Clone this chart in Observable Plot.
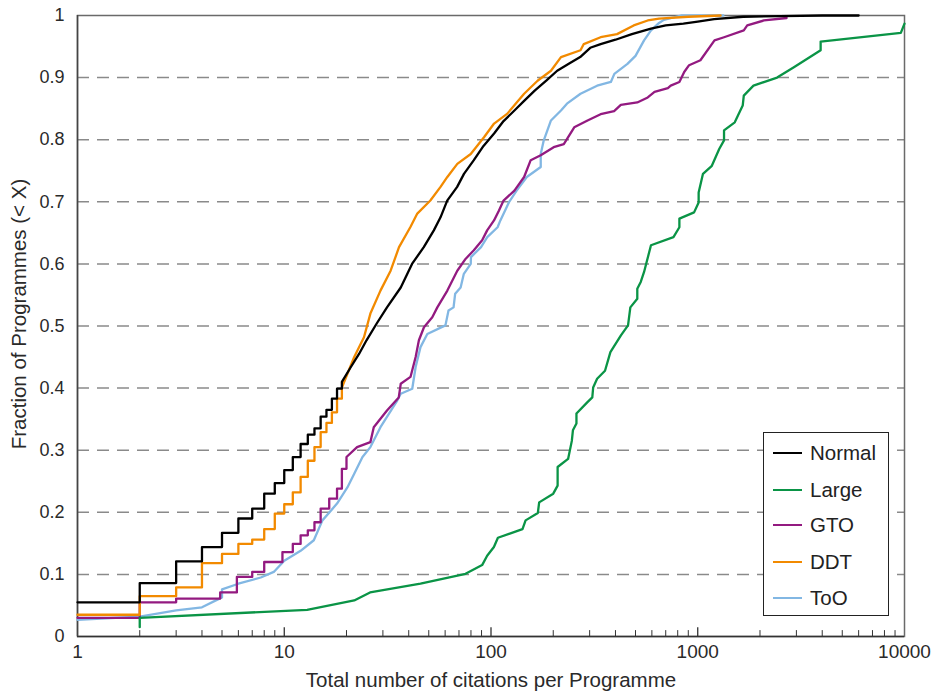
<!DOCTYPE html>
<html>
<head>
<meta charset="utf-8">
<script src="https://cdn.jsdelivr.net/npm/d3@7"></script>
<script src="https://cdn.jsdelivr.net/npm/@observablehq/plot@0.6"></script>
<style>
  body { margin: 0; background: #fff; }
  #wrap { position: relative; width: 933px; height: 692px; font-family: "Liberation Sans", Helvetica, Arial, sans-serif; }
  #legend { position: absolute; left: 763px; top: 432px; width: 124px; height: 182px; border: 1px solid #222; background: #fff; }
  .row { position: absolute; left: 0; height: 24px; display: flex; align-items: center; }
  .sw { width: 29px; height: 0; border-top: 2.3px solid; margin-left: 9px; margin-right: 8px; }
  .lab { font-size: 20.5px; color: #222; }
</style>
</head>
<body>
<div id="wrap"></div>
<script>
// ---- data ----
const seriesNames = ["Normal", "Large", "GTO", "DDT", "ToO"];
const seriesColors = ["#000000", "#0a9446", "#931a80", "#f28a00", "#82b7e3"];

const normal = [[1,0.055],[2,0.055],[2,0.086],[3,0.086],[3,0.121],[4,0.121],[4,0.144],[5,0.144],[5,0.167],[6,0.167],[6,0.19],[7,0.19],[7,0.206],[8,0.206],[8,0.23],[9,0.23],[9,0.247],[10,0.247],[10,0.268],[11,0.268],[11,0.289],[12,0.289],[12,0.31],[13,0.31],[13,0.325],[14,0.325],[14,0.335],[15,0.335],[15,0.354],[16,0.354],[16,0.365],[17,0.365],[17,0.383],[18,0.383],[18,0.399],[19,0.399],[19,0.41],[21,0.434],[23,0.455],[25,0.477],[28,0.504],[31.4,0.53],[36.6,0.562],[41.5,0.6],[47.3,0.627],[52.9,0.654],[57,0.675],[61.4,0.702],[68.6,0.724],[74,0.745],[82.6,0.767],[92,0.79],[103.5,0.81],[115,0.83],[129.8,0.847],[145,0.863],[162.7,0.879],[185,0.895],[209,0.911],[240,0.923],[270,0.933],[302,0.948],[339,0.954],[400,0.961],[480,0.97],[594,0.979],[700,0.984],[852,0.987],[1000,0.99],[1200,0.994],[1660,0.998],[2500,0.999],[4000,1.0],[6000,1.0]];

const large = [[2,0.015],[2,0.03],[12.9,0.043],[21.8,0.058],[26,0.071],[45.6,0.085],[75.3,0.101],[90.6,0.115],[95.8,0.13],[103.3,0.144],[108,0.159],[142,0.173],[147,0.187],[168.5,0.199],[171,0.216],[200,0.23],[210,0.243],[210,0.273],[236,0.286],[246,0.315],[249,0.332],[259,0.343],[259,0.359],[292,0.377],[309,0.385],[312,0.401],[326,0.415],[356,0.428],[378,0.458],[425,0.485],[460,0.501],[472,0.53],[510,0.544],[510,0.56],[530,0.571],[550,0.587],[594,0.63],[763,0.643],[815,0.659],[815,0.673],[960,0.683],[1010,0.699],[1010,0.715],[1060,0.745],[1170,0.758],[1270,0.785],[1340,0.799],[1340,0.815],[1510,0.828],[1650,0.855],[1670,0.871],[1860,0.887],[2420,0.9],[2930,0.917],[3930,0.944],[3930,0.958],[9600,0.972],[10000,0.987]];

const gto = [[1,0.03],[2,0.03],[2,0.055],[3,0.055],[3,0.061],[4.9,0.061],[4.9,0.071],[5.9,0.071],[5.9,0.096],[7,0.096],[7,0.104],[8,0.104],[8,0.12],[9.8,0.12],[9.8,0.136],[11,0.136],[11,0.149],[12,0.149],[12,0.163],[13,0.163],[13,0.171],[14,0.171],[14,0.184],[15,0.184],[15,0.206],[16.5,0.206],[16.5,0.222],[18,0.222],[18,0.238],[19,0.238],[19,0.27],[20,0.27],[20,0.289],[22.5,0.305],[26.1,0.313],[27.1,0.337],[31.4,0.364],[35.8,0.385],[36.6,0.407],[40.8,0.418],[43.2,0.45],[44.8,0.477],[47.4,0.498],[52,0.514],[55,0.53],[61.5,0.557],[68.7,0.589],[75.3,0.608],[82.6,0.622],[90.6,0.638],[95.8,0.654],[103.4,0.67],[109.3,0.686],[115,0.702],[129.8,0.718],[144.6,0.74],[155.6,0.767],[174,0.775],[201,0.788],[225,0.793],[252.7,0.82],[293,0.831],[339,0.841],[394,0.846],[424.5,0.856],[510,0.86],[573,0.868],[618,0.877],[717,0.883],[740,0.887],[815,0.893],[860,0.909],[908,0.92],[1030,0.928],[1205,0.96],[1340,0.965],[1670,0.976],[1735,0.984],[2090,0.992],[2690,0.996]];

const ddt = [[1,0.035],[2,0.035],[2,0.065],[3,0.065],[3,0.079],[4,0.079],[4,0.118],[5,0.118],[5,0.133],[6,0.133],[6,0.149],[7,0.149],[7,0.156],[8,0.156],[8,0.173],[9,0.173],[9,0.198],[10,0.198],[10,0.213],[11,0.213],[11,0.232],[12,0.232],[12,0.257],[13,0.257],[13,0.283],[14,0.283],[14,0.305],[15,0.305],[15,0.329],[16,0.329],[16,0.344],[17,0.344],[17,0.361],[18,0.361],[18,0.383],[19,0.383],[19,0.401],[21.8,0.45],[24.3,0.482],[26.1,0.52],[29.2,0.557],[32.7,0.589],[35.9,0.627],[40.7,0.659],[44,0.681],[50.9,0.702],[57,0.724],[61.5,0.74],[68.7,0.761],[79.8,0.777],[92.5,0.804],[103.5,0.826],[120,0.842],[144.6,0.874],[168,0.895],[195,0.911],[218,0.933],[271,0.944],[281,0.954],[339,0.965],[407,0.97],[490,0.984],[573,0.992],[650,0.995],[900,0.998],[1290,1.0]];

const too = [[1,0.027],[2,0.032],[3,0.042],[4,0.047],[5,0.063],[5,0.076],[6,0.085],[7.7,0.095],[8.9,0.104],[10,0.122],[12,0.138],[13.9,0.155],[15.3,0.187],[18,0.214],[20.2,0.24],[21.8,0.262],[23.9,0.289],[26.1,0.305],[29.2,0.337],[35.2,0.38],[36.6,0.391],[41.6,0.399],[43.2,0.434],[45.6,0.466],[49.2,0.487],[60.2,0.501],[62.3,0.525],[65.9,0.53],[67.1,0.552],[71.3,0.562],[73.9,0.584],[79.8,0.6],[80,0.611],[89.5,0.627],[95.9,0.643],[107.6,0.659],[111,0.67],[122,0.699],[133,0.718],[149,0.74],[174,0.756],[174,0.777],[180,0.799],[195,0.831],[218,0.847],[233,0.858],[271,0.874],[326,0.887],[380,0.893],[395,0.906],[457,0.922],[500,0.935],[550,0.96],[594,0.976],[650,0.988],[686,0.993],[830,1.0],[1330,1.0]];

const xTickValues = [1, 10, 100, 1000, 10000];
const yTickValues = [0, 0.1, 0.2, 0.3, 0.4, 0.5, 0.6, 0.7, 0.8, 0.9, 1];
const gridValues = [0.1, 0.2, 0.3, 0.4, 0.5, 0.6, 0.7, 0.8, 0.9];
const xLabel = "Total number of citations per Programme";
const yLabel = "Fraction of Programmes (< X)";

// ---- build table ----
const seriesData = [normal, large, gto, ddt, too];
const drawOrder = ["ToO", "GTO", "Large", "DDT", "Normal"];
const rows = [];
for (const name of drawOrder) {
  const i = seriesNames.indexOf(name);
  seriesData[i].forEach(([x, y]) => rows.push({series: name, x, y}));
}
const minorTicks = [];
for (const dec of [1, 10, 100, 1000]) for (let k = 2; k <= 9; k++) minorTicks.push(dec * k);
const majorTicks = [10, 100, 1000];

const chart = Plot.plot({
  width: 933,
  height: 692,
  marginLeft: 77,
  marginRight: 29,
  marginTop: 15,
  marginBottom: 56,
  style: {fontFamily: "'Liberation Sans', Helvetica, Arial, sans-serif", fontSize: "17px", color: "#2a2a2a", background: "#fff"},
  x: {type: "log", domain: [1, 10000]},
  y: {domain: [0, 1]},
  color: {domain: seriesNames, range: seriesColors},
  marks: [
    Plot.ruleY(gridValues, {stroke: "#8a8a8a", strokeWidth: 1.5, strokeDasharray: "12,8"}),
    Plot.frame({stroke: "#6a6a6a", strokeWidth: 1.5}),
    Plot.ruleX(minorTicks, {y1: 0, y2: 0.0095, stroke: "#333", strokeWidth: 1}),
    Plot.ruleX(majorTicks, {y1: 0, y2: 0.014, stroke: "#222", strokeWidth: 1.2}),
    Plot.ruleY([0], {stroke: "#333", strokeWidth: 1.5}),
    Plot.ruleX([1], {stroke: "#444", strokeWidth: 1.5}),
    Plot.line(rows, {x: "x", y: "y", z: "series", stroke: "series", strokeWidth: 2.3, curve: "linear"}),
    Plot.axisX(xTickValues, {tickSize: 0, tickPadding: 8, tickFormat: d => String(d), label: null, fontSize: 19}),
    Plot.axisY(yTickValues, {tickSize: 0, tickPadding: 13, tickFormat: d => String(d), label: null, fontSize: 18}),
    Plot.text([xLabel], {frameAnchor: "bottom", textAnchor: "middle", lineAnchor: "middle", dy: 44, fontSize: 20.5, fill: "#2a2a2a"}),
    Plot.text([yLabel], {frameAnchor: "left", textAnchor: "middle", lineAnchor: "middle", dx: -58, dy: -12, rotate: -90, fontSize: 20.5, fill: "#2a2a2a"})
  ]
});

const wrap = document.getElementById("wrap");
wrap.appendChild(chart);

const legend = document.createElement("div");
legend.id = "legend";
const rowTops = [8, 45, 80, 117, 153];
seriesNames.forEach((name, i) => {
  const r = document.createElement("div");
  r.className = "row";
  r.style.top = rowTops[i] + "px";
  const sw = document.createElement("div");
  sw.className = "sw";
  sw.style.borderTopColor = seriesColors[i];
  const lab = document.createElement("span");
  lab.className = "lab";
  lab.textContent = name;
  r.appendChild(sw); r.appendChild(lab);
  legend.appendChild(r);
});
wrap.appendChild(legend);
</script>
</body>
</html>
